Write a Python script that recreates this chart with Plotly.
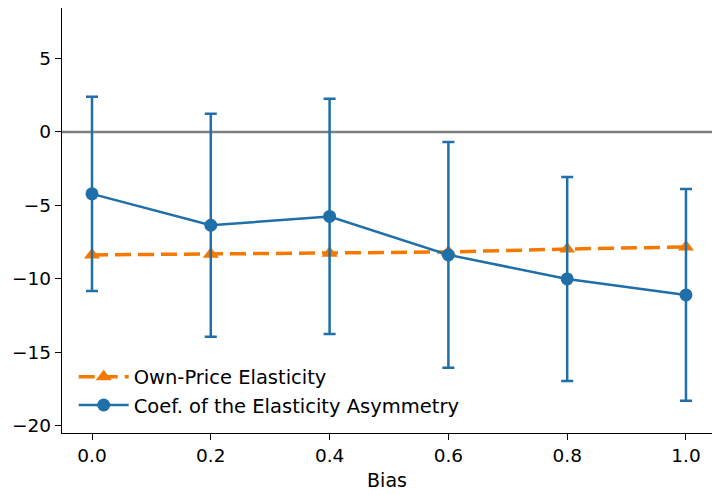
import plotly.graph_objects as go

bias = [0.0, 0.2, 0.4, 0.6, 0.8, 1.0]
asym_coef = [-4.22, -6.36, -5.76, -8.38, -10.02, -11.11]
asym_err = [6.62, 7.6, 8.02, 7.7, 6.95, 7.22]
own_price = [-8.38, -8.33, -8.26, -8.18, -7.98, -7.84]

blue = "#1f6fa8"
orange = "#f57900"

fig = go.Figure()
fig.add_shape(type="line", xref="paper", x0=0, x1=1, yref="y", y0=0, y1=0,
              line=dict(color="gray", width=2.5), layer="below")

fig.add_trace(go.Scatter(
    x=bias, y=own_price, mode="lines+markers", name="Own-Price Elasticity",
    line=dict(color=orange, width=3.5, dash="16px,7px"),
    marker=dict(symbol="triangle-up", size=14, color=orange),
))
fig.add_trace(go.Scatter(
    x=bias, y=asym_coef, mode="lines+markers", name="Coef. of the Elasticity Asymmetry",
    line=dict(color=blue, width=2.5),
    marker=dict(symbol="circle", size=13, color=blue),
    error_y=dict(type="data", array=asym_err, visible=True, color=blue, thickness=2.5, width=6),
))

fig.update_layout(
    width=712, height=495,
    margin=dict(l=62, r=0, t=8, b=62),
    plot_bgcolor="white", paper_bgcolor="white",
    font=dict(family="DejaVu Sans", size=18.5, color="black"),
    showlegend=True,
    legend=dict(x=0.018, y=0.02, xanchor="left", yanchor="bottom",
                bgcolor="rgba(0,0,0,0)", font=dict(size=19.5), tracegroupgap=0,
                traceorder="normal", itemwidth=50),
)
fig.update_xaxes(
    range=[-0.0505, 1.0438], tickvals=bias, tickformat=".1f",
    showline=True, linecolor="black", linewidth=1.3, ticks="outside", ticklen=6,
    tickwidth=1.3, tickcolor="black", showgrid=False, zeroline=False, mirror=False,
    title=dict(text="Bias", font=dict(size=19), standoff=8),
)
fig.update_yaxes(
    range=[-20.52, 8.45], tickvals=[-20, -15, -10, -5, 0, 5],
    ticktext=["\u221220", "\u221215", "\u221210", "\u22125", "0", "5"],
    showline=True, linecolor="black", linewidth=1.3, ticks="outside", ticklen=6,
    tickwidth=1.3, tickcolor="black", showgrid=False, zeroline=False,
)

fig.write_html(
    "out.html",
    config={"displayModeBar": False},
    post_script="document.body.style.margin='0';document.documentElement.style.overflow='hidden';document.body.style.overflow='hidden';",
)
